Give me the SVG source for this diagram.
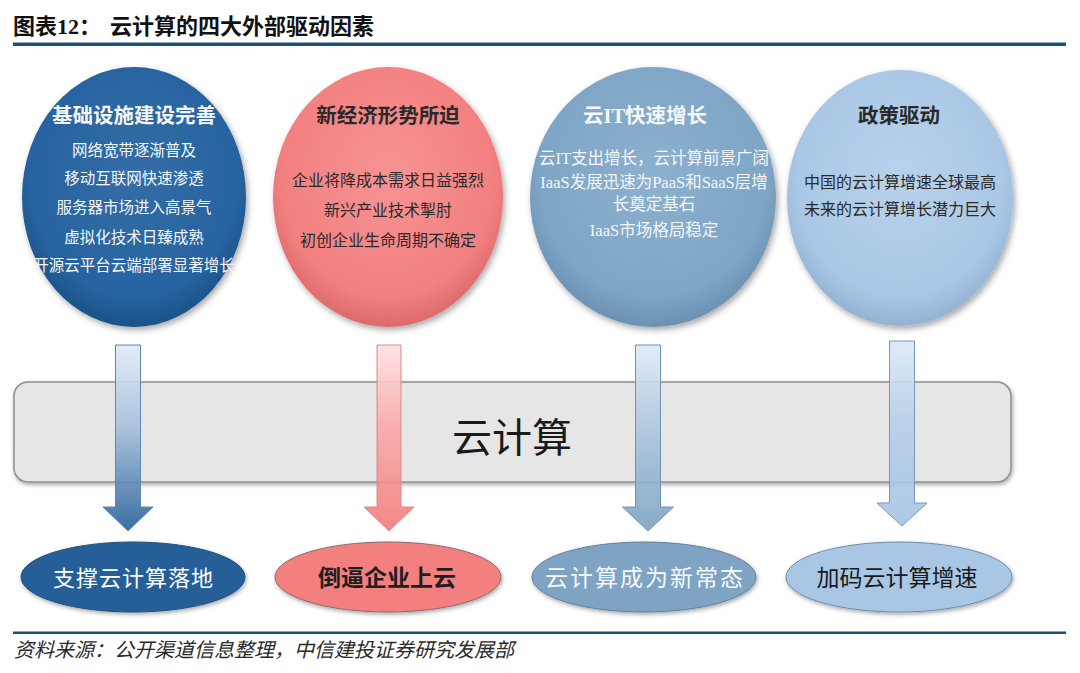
<svg xmlns="http://www.w3.org/2000/svg" width="1080" height="673" viewBox="0 0 1080 673">
<defs>
<style>
.cjk{font-family:"Liberation Serif","Noto Sans CJK SC",serif;}
.sans{font-family:"Liberation Sans","Noto Sans CJK SC",sans-serif;}
.ttl{font-size:20.5px;font-weight:bold;text-anchor:middle;}
.ln{font-size:15.5px;text-anchor:middle;}
.ln16{font-size:16px;text-anchor:middle;}
.ln17{font-size:16.5px;text-anchor:middle;}
.wt{fill:#f4f6f8;}
.dk{fill:#2a2a2a;}
.arr{stroke-width:1;fill-opacity:0.9;}
</style>
<filter id="sh" x="-20%" y="-20%" width="140%" height="140%">
<feDropShadow dx="2" dy="3" stdDeviation="3" flood-color="#000" flood-opacity="0.35"/>
</filter>
<filter id="sh2" x="-10%" y="-30%" width="120%" height="160%">
<feDropShadow dx="1" dy="2" stdDeviation="2" flood-color="#000" flood-opacity="0.35"/>
</filter>
<radialGradient id="g1" cx="50%" cy="42%" r="58%">
<stop offset="0" stop-color="#336da6"/><stop offset="0.8" stop-color="#2763a0"/><stop offset="1" stop-color="#1c5288"/>
</radialGradient>
<radialGradient id="g2" cx="50%" cy="42%" r="58%">
<stop offset="0" stop-color="#f79393"/><stop offset="0.8" stop-color="#f38080"/><stop offset="1" stop-color="#dd6a6a"/>
</radialGradient>
<radialGradient id="g3" cx="50%" cy="42%" r="58%">
<stop offset="0" stop-color="#8db1cf"/><stop offset="0.8" stop-color="#7ea5c5"/><stop offset="1" stop-color="#6b91b2"/>
</radialGradient>
<radialGradient id="g4" cx="50%" cy="42%" r="58%">
<stop offset="0" stop-color="#b8d2eb"/><stop offset="0.8" stop-color="#a9c7e5"/><stop offset="1" stop-color="#93b2d2"/>
</radialGradient>
<linearGradient id="a1" x1="0" y1="0" x2="0" y2="1">
<stop offset="0" stop-color="#dfeaf6"/><stop offset="0.45" stop-color="#a3bfdc"/><stop offset="1" stop-color="#245e97"/>
</linearGradient>
<linearGradient id="a2" x1="0" y1="0" x2="0" y2="1">
<stop offset="0" stop-color="#fde0e0"/><stop offset="0.45" stop-color="#f9a8a8"/><stop offset="1" stop-color="#f27a7a"/>
</linearGradient>
<linearGradient id="a3" x1="0" y1="0" x2="0" y2="1">
<stop offset="0" stop-color="#deeaf6"/><stop offset="0.45" stop-color="#adc6de"/><stop offset="1" stop-color="#7aa1c1"/>
</linearGradient>
<linearGradient id="a4" x1="0" y1="0" x2="0" y2="1">
<stop offset="0" stop-color="#dbe8f5"/><stop offset="0.45" stop-color="#b5cee8"/><stop offset="1" stop-color="#a5c4e3"/>
</linearGradient>
</defs>
<rect width="1080" height="673" fill="#ffffff"/>

<g id="title">
<text x="13" y="34" class="cjk" font-size="22" font-weight="bold" fill="#111">图表12：</text>
<text x="110" y="34" class="cjk" font-size="22" font-weight="bold" fill="#111">云计算的四大外部驱动因素</text>
<rect x="13" y="42.5" width="1053" height="3.5" fill="#1e4f7d"/>
</g>

<g id="driver1">
<ellipse cx="134" cy="197" rx="112" ry="130" fill="url(#g1)" filter="url(#sh)"/>
<text x="134" y="123" class="cjk ttl wt">基础设施建设完善</text>
<text x="134" y="156" class="cjk ln wt">网络宽带逐渐普及</text>
<text x="134" y="184" class="cjk ln wt">移动互联网快速渗透</text>
<text x="134" y="213" class="cjk ln wt">服务器市场进入高景气</text>
<text x="134" y="243" class="cjk ln wt">虚拟化技术日臻成熟</text>
<text x="134" y="271" class="cjk ln wt">开源云平台云端部署显著增长</text>
</g>

<g id="driver2">
<ellipse cx="388" cy="197" rx="115" ry="130" fill="url(#g2)" filter="url(#sh)"/>
<text x="388" y="123" class="cjk ttl dk">新经济形势所迫</text>
<text x="388" y="186" class="cjk ln16 dk">企业将降成本需求日益强烈</text>
<text x="388" y="216" class="cjk ln16 dk">新兴产业技术掣肘</text>
<text x="388" y="246" class="cjk ln16 dk">初创企业生命周期不确定</text>
</g>

<g id="driver3">
<ellipse cx="653" cy="197" rx="123" ry="130" fill="url(#g3)" filter="url(#sh)"/>
<text x="645" y="123" class="cjk ttl wt">云IT快速增长</text>
<text x="654" y="164" class="cjk ln17 wt">云IT支出增长，云计算前景广阔</text>
<text x="654" y="188" class="cjk ln17 wt">IaaS发展迅速为PaaS和SaaS层增</text>
<text x="654" y="210" class="cjk ln17 wt">长奠定基石</text>
<text x="654" y="236" class="cjk ln17 wt">IaaS市场格局稳定</text>
</g>

<g id="driver4">
<ellipse cx="900" cy="198" rx="113" ry="128" fill="url(#g4)" filter="url(#sh)"/>
<text x="899" y="123" class="cjk ttl dk">政策驱动</text>
<text x="900" y="188" class="cjk ln16 dk">中国的云计算增速全球最高</text>
<text x="900" y="215" class="cjk ln16 dk">未来的云计算增长潜力巨大</text>
</g>

<g id="cloud">
<rect x="14" y="382" width="997" height="100" rx="14" ry="14" fill="#e6e6e6" stroke="#8e8e8e" stroke-width="1.5" filter="url(#sh2)"/>
<text x="512" y="452" class="sans" font-size="40" text-anchor="middle" fill="#1a1a1a">云计算</text>
</g>

<g id="connectors">
<path class="arr" d="M115.5,345 H140.5 V507 H153 L128,531 L103,507 H115.5 Z" fill="url(#a1)" stroke="#5f86ae"/>
<path class="arr" d="M377,345 H401 V507 H414 L389,531 L364,507 H377 Z" fill="url(#a2)" stroke="#d98a8a"/>
<path class="arr" d="M635.5,345 H660.5 V507 H673.5 L648,531 L622.5,507 H635.5 Z" fill="url(#a3)" stroke="#6f93b3"/>
<path class="arr" d="M889.5,341 H914.5 V503 H927 L902,526 L877,503 H889.5 Z" fill="url(#a4)" stroke="#7797b8"/>
</g>

<g id="result1">
<ellipse cx="133" cy="577" rx="112" ry="35" fill="#265e97" stroke="#1d4f80" stroke-width="1" filter="url(#sh2)"/>
<text x="133.5" y="586" class="sans" font-size="22" letter-spacing="1" text-anchor="middle" fill="#ffffff">支撑云计算落地</text>
</g>
<g id="result2">
<ellipse cx="388" cy="577" rx="113" ry="35" fill="#f47f7f" stroke="#8a6a6a" stroke-width="1" filter="url(#sh2)"/>
<text x="387" y="586" class="sans" font-size="23" font-weight="bold" text-anchor="middle" fill="#1e1e1e">倒逼企业上云</text>
</g>
<g id="result3">
<ellipse cx="644" cy="577" rx="112" ry="35" fill="#7fa4c3" stroke="#5f7f9c" stroke-width="1" filter="url(#sh2)"/>
<text x="645" y="586" class="sans" font-size="23" letter-spacing="2" text-anchor="middle" fill="#f6f8fa">云计算成为新常态</text>
</g>
<g id="result4">
<ellipse cx="899" cy="577" rx="113" ry="35" fill="#a9c7e5" stroke="#6d8bab" stroke-width="1" filter="url(#sh2)"/>
<text x="897" y="586" class="sans" font-size="23" text-anchor="middle" fill="#1a1a1a">加码云计算增速</text>
</g>

<g id="footer">
<rect x="13" y="631.5" width="1053" height="2.5" fill="#1e4f7d"/>
<text x="14" y="657" class="cjk" font-size="20" font-style="italic" fill="#2a2a2a">资料来源：公开渠道信息整理，中信建投证券研究发展部</text>
</g>
</svg>
